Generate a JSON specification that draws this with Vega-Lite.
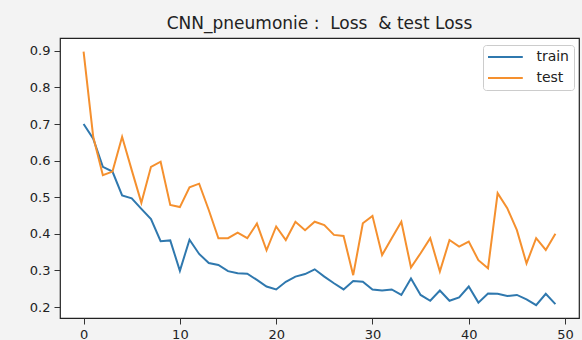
{
  "$schema": "https://vega.github.io/schema/vega-lite/v6.json",
  "autosize": {"type": "none"},
  "width": 519,
  "height": 280,
  "padding": {"left": 60, "top": 38, "right": 3, "bottom": 22},
  "background": "#f3f3f3",
  "title": {
    "text": "CNN_pneumonie :\u00a0 Loss\u00a0 & test Loss",
    "anchor": "middle",
    "fontSize": 17,
    "font": "DejaVu Sans",
    "fontWeight": "normal",
    "color": "#222222",
    "offset": 5
  },
  "config": {
    "view": {"stroke": "#222222", "strokeWidth": 1.2, "fill": "white"},
    "font": "DejaVu Sans"
  },
  "datasets": {
    "loss": [
      {"epoch": 0, "loss": 0.700, "set": "train"},
      {"epoch": 1, "loss": 0.660, "set": "train"},
      {"epoch": 2, "loss": 0.583, "set": "train"},
      {"epoch": 3, "loss": 0.570, "set": "train"},
      {"epoch": 4, "loss": 0.505, "set": "train"},
      {"epoch": 5, "loss": 0.497, "set": "train"},
      {"epoch": 6, "loss": 0.468, "set": "train"},
      {"epoch": 7, "loss": 0.440, "set": "train"},
      {"epoch": 8, "loss": 0.380, "set": "train"},
      {"epoch": 9, "loss": 0.382, "set": "train"},
      {"epoch": 10, "loss": 0.299, "set": "train"},
      {"epoch": 11, "loss": 0.384, "set": "train"},
      {"epoch": 12, "loss": 0.345, "set": "train"},
      {"epoch": 13, "loss": 0.320, "set": "train"},
      {"epoch": 14, "loss": 0.315, "set": "train"},
      {"epoch": 15, "loss": 0.298, "set": "train"},
      {"epoch": 16, "loss": 0.292, "set": "train"},
      {"epoch": 17, "loss": 0.291, "set": "train"},
      {"epoch": 18, "loss": 0.274, "set": "train"},
      {"epoch": 19, "loss": 0.256, "set": "train"},
      {"epoch": 20, "loss": 0.248, "set": "train"},
      {"epoch": 21, "loss": 0.269, "set": "train"},
      {"epoch": 22, "loss": 0.283, "set": "train"},
      {"epoch": 23, "loss": 0.290, "set": "train"},
      {"epoch": 24, "loss": 0.303, "set": "train"},
      {"epoch": 25, "loss": 0.283, "set": "train"},
      {"epoch": 26, "loss": 0.265, "set": "train"},
      {"epoch": 27, "loss": 0.248, "set": "train"},
      {"epoch": 28, "loss": 0.271, "set": "train"},
      {"epoch": 29, "loss": 0.269, "set": "train"},
      {"epoch": 30, "loss": 0.248, "set": "train"},
      {"epoch": 31, "loss": 0.245, "set": "train"},
      {"epoch": 32, "loss": 0.248, "set": "train"},
      {"epoch": 33, "loss": 0.233, "set": "train"},
      {"epoch": 34, "loss": 0.278, "set": "train"},
      {"epoch": 35, "loss": 0.233, "set": "train"},
      {"epoch": 36, "loss": 0.217, "set": "train"},
      {"epoch": 37, "loss": 0.245, "set": "train"},
      {"epoch": 38, "loss": 0.217, "set": "train"},
      {"epoch": 39, "loss": 0.226, "set": "train"},
      {"epoch": 40, "loss": 0.256, "set": "train"},
      {"epoch": 41, "loss": 0.212, "set": "train"},
      {"epoch": 42, "loss": 0.237, "set": "train"},
      {"epoch": 43, "loss": 0.236, "set": "train"},
      {"epoch": 44, "loss": 0.230, "set": "train"},
      {"epoch": 45, "loss": 0.233, "set": "train"},
      {"epoch": 46, "loss": 0.221, "set": "train"},
      {"epoch": 47, "loss": 0.205, "set": "train"},
      {"epoch": 48, "loss": 0.236, "set": "train"},
      {"epoch": 49, "loss": 0.208, "set": "train"},
      {"epoch": 0, "loss": 0.898, "set": "test"},
      {"epoch": 1, "loss": 0.665, "set": "test"},
      {"epoch": 2, "loss": 0.560, "set": "test"},
      {"epoch": 3, "loss": 0.570, "set": "test"},
      {"epoch": 4, "loss": 0.665, "set": "test"},
      {"epoch": 5, "loss": 0.574, "set": "test"},
      {"epoch": 6, "loss": 0.485, "set": "test"},
      {"epoch": 7, "loss": 0.583, "set": "test"},
      {"epoch": 8, "loss": 0.597, "set": "test"},
      {"epoch": 9, "loss": 0.479, "set": "test"},
      {"epoch": 10, "loss": 0.473, "set": "test"},
      {"epoch": 11, "loss": 0.527, "set": "test"},
      {"epoch": 12, "loss": 0.537, "set": "test"},
      {"epoch": 13, "loss": 0.465, "set": "test"},
      {"epoch": 14, "loss": 0.388, "set": "test"},
      {"epoch": 15, "loss": 0.388, "set": "test"},
      {"epoch": 16, "loss": 0.403, "set": "test"},
      {"epoch": 17, "loss": 0.388, "set": "test"},
      {"epoch": 18, "loss": 0.428, "set": "test"},
      {"epoch": 19, "loss": 0.355, "set": "test"},
      {"epoch": 20, "loss": 0.420, "set": "test"},
      {"epoch": 21, "loss": 0.383, "set": "test"},
      {"epoch": 22, "loss": 0.433, "set": "test"},
      {"epoch": 23, "loss": 0.410, "set": "test"},
      {"epoch": 24, "loss": 0.433, "set": "test"},
      {"epoch": 25, "loss": 0.424, "set": "test"},
      {"epoch": 26, "loss": 0.397, "set": "test"},
      {"epoch": 27, "loss": 0.394, "set": "test"},
      {"epoch": 28, "loss": 0.287, "set": "test"},
      {"epoch": 29, "loss": 0.429, "set": "test"},
      {"epoch": 30, "loss": 0.449, "set": "test"},
      {"epoch": 31, "loss": 0.342, "set": "test"},
      {"epoch": 32, "loss": 0.388, "set": "test"},
      {"epoch": 33, "loss": 0.433, "set": "test"},
      {"epoch": 34, "loss": 0.308, "set": "test"},
      {"epoch": 35, "loss": 0.347, "set": "test"},
      {"epoch": 36, "loss": 0.388, "set": "test"},
      {"epoch": 37, "loss": 0.297, "set": "test"},
      {"epoch": 38, "loss": 0.383, "set": "test"},
      {"epoch": 39, "loss": 0.365, "set": "test"},
      {"epoch": 40, "loss": 0.379, "set": "test"},
      {"epoch": 41, "loss": 0.328, "set": "test"},
      {"epoch": 42, "loss": 0.306, "set": "test"},
      {"epoch": 43, "loss": 0.511, "set": "test"},
      {"epoch": 44, "loss": 0.470, "set": "test"},
      {"epoch": 45, "loss": 0.410, "set": "test"},
      {"epoch": 46, "loss": 0.319, "set": "test"},
      {"epoch": 47, "loss": 0.388, "set": "test"},
      {"epoch": 48, "loss": 0.356, "set": "test"},
      {"epoch": 49, "loss": 0.400, "set": "test"}
    ]
  },
  "data": {"name": "loss"},
  "mark": {"type": "line", "strokeWidth": 2, "clip": true},
  "encoding": {
    "x": {
      "field": "epoch",
      "type": "quantitative",
      "scale": {"domain": [-2.45, 51.45], "nice": false, "zero": false},
      "axis": {
        "values": [0, 10, 20, 30, 40, 50],
        "title": null,
        "grid": false,
        "domain": false,
        "tickSize": 6,
        "tickColor": "#333333",
        "labelFontSize": 13,
        "labelColor": "#222222",
        "labelPadding": 4,
        "labelFont": "DejaVu Sans"
      }
    },
    "y": {
      "field": "loss",
      "type": "quantitative",
      "scale": {"domain": [0.17, 0.935], "nice": false, "zero": false},
      "axis": {
        "values": [0.2, 0.3, 0.4, 0.5, 0.6, 0.7, 0.8, 0.9],
        "format": ".1f",
        "title": null,
        "grid": false,
        "domain": false,
        "tickSize": 6,
        "tickColor": "#333333",
        "labelFontSize": 13,
        "labelColor": "#222222",
        "labelPadding": 4,
        "labelFont": "DejaVu Sans"
      }
    },
    "color": {
      "field": "set",
      "type": "nominal",
      "sort": ["train", "test"],
      "scale": {"domain": ["train", "test"], "range": ["#2f78ae", "#f5902e"]},
      "legend": {
        "title": null,
        "orient": "none",
        "legendX": 423,
        "legendY": 7,
        "symbolType": "M-2.9,0H2.9",
        "symbolSize": 144,
        "symbolOffset": 10.4,
        "symbolStrokeWidth": 2,
        "labelFontSize": 14,
        "labelFont": "DejaVu Sans",
        "labelColor": "#222222",
        "labelOffset": 24,
        "padding": 5,
        "rowPadding": 7,
        "strokeColor": "#cccccc",
        "fillColor": "white",
        "cornerRadius": 3
      }
    }
  }
}
